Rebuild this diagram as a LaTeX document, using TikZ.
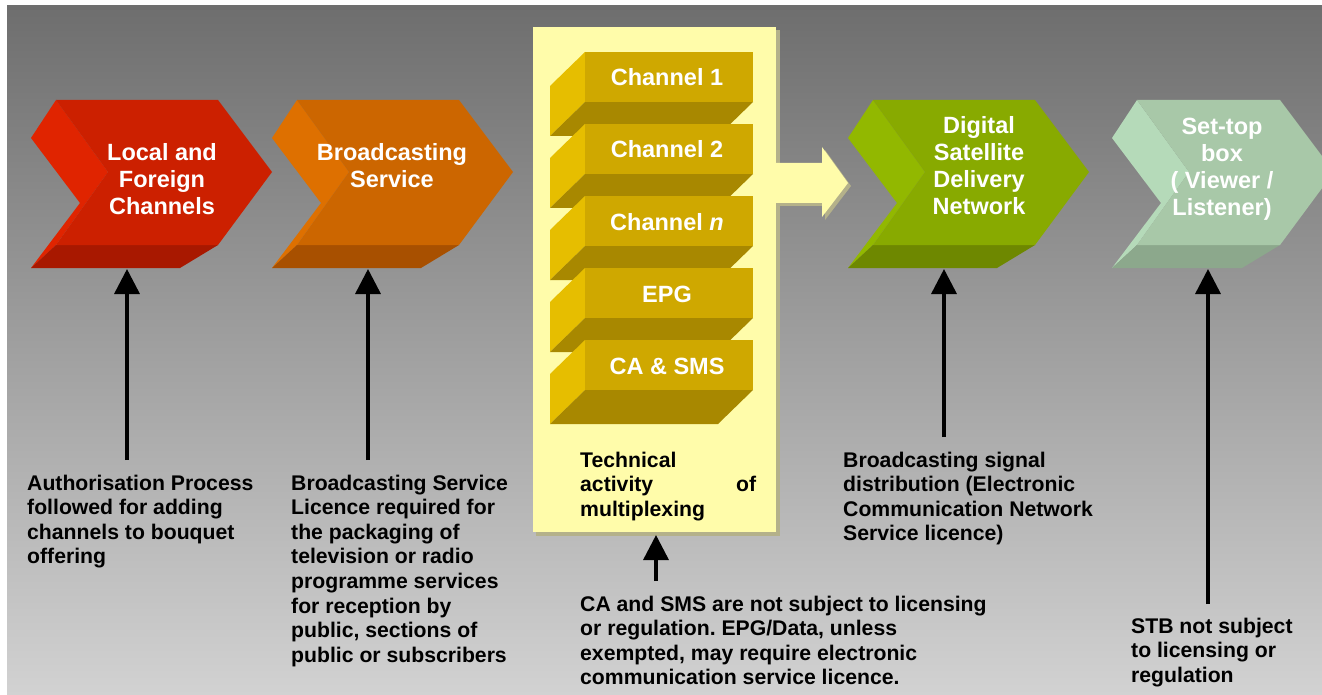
\documentclass[tikz,border=0pt]{standalone}
\usepackage{fontspec}
\setmainfont{Liberation Sans}
\usetikzlibrary{arrows.meta}
\frenchspacing
\definecolor{redF}{RGB}{204,32,0}
\definecolor{redS}{RGB}{224,36,0}
\definecolor{redB}{RGB}{168,24,0}
\definecolor{oraF}{RGB}{204,102,0}
\definecolor{oraS}{RGB}{222,112,0}
\definecolor{oraB}{RGB}{168,80,0}
\definecolor{grnF}{RGB}{136,170,0}
\definecolor{grnS}{RGB}{146,184,0}
\definecolor{grnB}{RGB}{110,136,0}
\definecolor{lgrF}{RGB}{168,200,168}
\definecolor{lgrS}{RGB}{181,218,185}
\definecolor{lgrB}{RGB}{140,168,140}
\definecolor{chF}{RGB}{207,168,0}
\definecolor{chS}{RGB}{230,190,0}
\definecolor{chB}{RGB}{168,136,0}
\definecolor{boxY}{RGB}{255,252,170}
\definecolor{boxShadow}{RGB}{180,177,138}
\definecolor{bgTop}{RGB}{110,110,110}
\definecolor{bgBot}{RGB}{210,210,210}
\newcommand{\drawchev}[5]{%
  \fill[#4] (#1,138) -- (#1+25,100) -- (#1+77,172) -- (#1+25,245) -- (#1,268) -- (#1+49,203) -- cycle;
  \fill[#5] (#1+25,245) -- (#1+25+#2,245) -- (#1+#2-13,268) -- (#1,268) -- cycle;
  \fill[#3] (#1+25,100) -- (#1+25+#2,100) -- (#1+79+#2,172) -- (#1+25+#2,245) -- (#1+25,245) -- (#1+77,172) -- cycle;
}
\newcommand{\drawblock}[3]{%
  \fill[chS] (550,#1+34) -- (585,#1) -- (585,#1+50) -- (550,#1+84) -- cycle;
  \fill[chB] (585,#1+50) -- (753,#1+50) -- (718,#1+84) -- (550,#1+84) -- cycle;
  \fill[chF] (585,#1) rectangle (753,#1+50);
  \node[chlabel] (#3) at (667,#1+34) {#2};
}
\tikzset{
  chevlabel/.style={anchor=base, inner sep=0pt, text=white,
    font=\bfseries\fontsize{23.5}{27}\selectfont},
  chlabel/.style={anchor=base, inner sep=0pt, text=white,
    font=\bfseries\fontsize{23.5}{27}\selectfont},
  desc/.style={anchor=base west, inner sep=0pt, text=black,
    font=\bfseries\fontsize{21.2}{24.6}\selectfont},
  uparrow/.style={-{Triangle[length=25pt,width=25pt]}, line width=3.5pt, black},
}
\begin{document}
\begin{tikzpicture}[x=1pt,y=-1pt]
\clip (0,0) rectangle (1322,695);
\fill[white] (0,0) rectangle (1322,695);
\shade[top color=bgTop, bottom color=bgBot] (7,6) rectangle (1322,695);

% chevrons
\drawchev{31}{162}{redF}{redS}{redB}
\drawchev{272}{162}{oraF}{oraS}{oraB}
\drawchev{848}{162}{grnF}{grnS}{grnB}
\drawchev{1112}{143}{lgrF}{lgrS}{lgrB}

\node[chevlabel] (c1) at (162,161) {\parbox[t]{160pt}{\centering Local and\\Foreign\\Channels}};
\node[chevlabel] (c2) at (392,161) {\parbox[t]{160pt}{\centering Broadcasting\\Service}};
\node[chevlabel] (c3) at (979,134) {\parbox[t]{160pt}{\centering Digital\\Satellite\\Delivery\\Network}};
\node[chevlabel] (c4) at (1222,135) {\parbox[t]{160pt}{\centering Set-top\\box\\( Viewer /\\Listener)}};

% yellow box with shadow
\fill[boxShadow] (536,30) rectangle (780,536);
\fill[boxY] (533,27) rectangle (776,532);

% yellow arrow
\fill[boxShadow] (779,166) -- (825,166) -- (825,150) -- (851,186) -- (825,220) -- (825,206) -- (779,206) -- cycle;
\fill[boxY] (776,163) -- (822,163) -- (822,147) -- (848,183) -- (822,217) -- (822,203) -- (776,203) -- cycle;

% channel blocks
\drawblock{52}{Channel 1}{ch1}
\drawblock{124}{Channel 2}{ch2}
\drawblock{196}{Channel \textit{n}}{chn}
\drawblock{268}{EPG}{epg}
\drawblock{340}{CA \& SMS}{casms}

% descriptions
\node[desc] (d1) at (27,490) {\parbox[t]{240pt}{Authorisation Process\\followed for adding\\channels to bouquet\\offering}};
\node[desc] (d2) at (291,490) {\parbox[t]{240pt}{Broadcasting Service\\Licence required for\\the packaging of\\television or radio\\programme services\\for reception by\\public, sections of\\public or subscribers}};
\node[desc] (d3) at (580,467) {\parbox[t]{176pt}{Technical\\\hbox to 176pt{activity\hfill of}\\multiplexing}};
\node[desc] (d4) at (843,467) {\parbox[t]{280pt}{Broadcasting signal\\distribution (Electronic\\Communication Network\\Service licence)}};
\node[desc] (d5) at (580,611) {\parbox[t]{440pt}{CA and SMS are not subject to licensing\\or regulation. EPG/Data, unless\\exempted, may require electronic\\communication service licence.}};
\node[desc] (d6) at (1131,633) {\parbox[t]{180pt}{STB not subject\\to licensing or\\regulation}};

% arrow end points
\coordinate (a1s) at (127,460);
\coordinate (a1e) at (127,269);
\coordinate (a2s) at (368,460);
\coordinate (a2e) at (368,269);
\coordinate (a3s) at (656,581);
\coordinate (a3e) at (656,535);
\coordinate (a4s) at (944,437);
\coordinate (a4e) at (944,269);
\coordinate (a5s) at (1208,604);
\coordinate (a5e) at (1208,269);
\draw[uparrow] (a1s) -- (a1e);
\draw[uparrow] (a2s) -- (a2e);
\draw[uparrow] (a3s) -- (a3e);
\draw[uparrow] (a4s) -- (a4e);
\draw[uparrow] (a5s) -- (a5e);
\end{tikzpicture}
\end{document}
